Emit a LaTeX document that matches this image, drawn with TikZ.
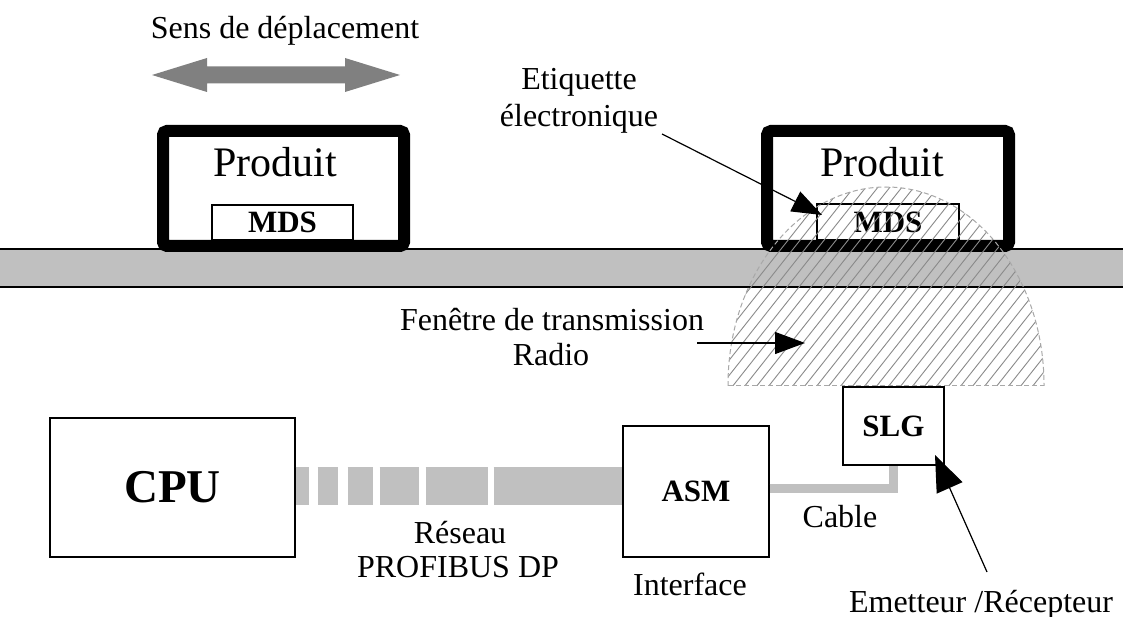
\documentclass[tikz,border=0pt]{standalone}
\usepackage{fontspec}
\setmainfont{Liberation Serif}
\usetikzlibrary{arrows.meta}
\definecolor{bandgray}{HTML}{C0C0C0}
\definecolor{movegray}{HTML}{808080}
\definecolor{hatchgray}{HTML}{8A8A8A}
\definecolor{rimgray}{HTML}{A8A8A8}
\begin{document}
\begin{tikzpicture}[x=1pt,y=-1pt,
  txt/.style={font=\fontsize{32}{34}\selectfont, inner sep=0pt, anchor=base},
  thinbox/.style={draw=black, line width=1.3pt, fill=white, inner sep=0pt},
  boldlbl/.style={font=\fontsize{31}{33}\selectfont\bfseries},
  prodbox/.style={draw=black, line width=12pt, rounded corners=4pt, fill=white, inner sep=0pt},
  pointer/.style={draw=black, line width=1.2pt, -{Triangle[length=30pt,width=22pt]}},
  hatchline/.style={draw=hatchgray, line width=0.9pt},
  rim/.style={draw=rimgray, line width=1pt, dash pattern=on 5pt off 3pt},
  netbar/.style={draw=bandgray, line width=38pt, dash pattern=on 13pt off 9pt on 20pt off 10pt on 25pt off 7pt on 39pt off 7pt on 62pt off 6pt on 200pt},
  cableline/.style={draw=bandgray, line width=9pt},
]
\useasboundingbox (0,0) rectangle (1123,617);
\fill[white] (0,0) rectangle (1123,617);

% conveyor band
\draw[line width=1.5pt, fill=bandgray] (-10,249) rectangle (1133,287);

% direction of motion
\node[txt] (sens) at (285,39) {Sens de déplacement};
\fill[movegray] (152,75) -- (207,58) -- (207,66.5) -- (345,66.5) -- (345,58) -- (400,75)
  -- (345,92) -- (345,83.5) -- (207,83.5) -- (207,92) -- cycle;

% products
\node[prodbox, minimum width=241pt, minimum height=115pt] (prodL) at (283.5,188.5) {};
\node[prodbox, minimum width=242pt, minimum height=115pt] (prodR) at (888,188.5) {};
\node[txt, font=\fontsize{42}{44}\selectfont] (prodLtxt) at (275,177) {Produit};
\node[txt, font=\fontsize{42}{44}\selectfont] (prodRtxt) at (882,177) {Produit};
\node[thinbox, boldlbl, minimum width=141pt, minimum height=35pt] (mdsL) at (282.5,222.5) {MDS};
\node[thinbox, boldlbl, minimum width=142pt, minimum height=36pt] (mdsR) at (888,222) {MDS};

% lower devices
\node[thinbox, font=\fontsize{47}{49}\selectfont\bfseries, minimum width=245pt, minimum height=139pt] (cpu) at (172.5,487.5) {CPU};
\node[thinbox, boldlbl, minimum width=146pt, minimum height=131pt] (asm) at (696,491.5) {ASM};
\node[thinbox, boldlbl, minimum width=101pt, minimum height=78pt] (slg) at (893.5,426) {SLG};

% network and cable
\draw[netbar] (cpu.east |- 0,486) -- (asm.west |- 0,486);
\draw[cableline] (asm.east |- 0,488) -| (slg.south);

% labels
\node[txt] (reseau) at (460,543) {Réseau};
\node[txt] (profibus) at (458,577) {PROFIBUS DP};
\node[txt] (cable) at (840,527) {Cable};
\node[txt] (iface) at (690,595) {Interface};
\node[txt] (emet) at (981,612) {Emetteur /Récepteur};
\node[txt] (fen1) at (552,330) {Fenêtre de transmission};
\node[txt] (fen2) at (551,365) {Radio};
\node[txt] (etq1) at (579,90) {Etiquette};
\node[txt] (etq2) at (579,127) {électronique};

% radio transmission window (hatched half ellipse)
\begin{scope}
  \clip (700,150) rectangle (1100,385);
  \clip (886,385) ellipse [x radius=158, y radius=198];
  \foreach \b in {560,572,...,1052} {
    \draw[hatchline] (\b,392) -- (\b+170,177);
  }
\end{scope}
\begin{scope}
  \clip (700,150) rectangle (1100,385.5);
  \draw[rim] (886,385) ellipse [x radius=158, y radius=198];
\end{scope}
\draw[rim] (728,385) -- (1044,385);

% pointers
\coordinate (etqfrom) at (662,134);
\coordinate (etqto) at (822,215);
\coordinate (fenfrom) at (697,343);
\coordinate (fento) at (805,343);
\coordinate (emfrom) at (987,572);
\coordinate (emto) at (935,455);
\draw[pointer] (etqfrom) -- (etqto);
\draw[pointer] (fenfrom) -- (fento);
\draw[pointer, -{Triangle[length=36pt,width=28pt]}] (emfrom) -- (emto);
\end{tikzpicture}
\end{document}
